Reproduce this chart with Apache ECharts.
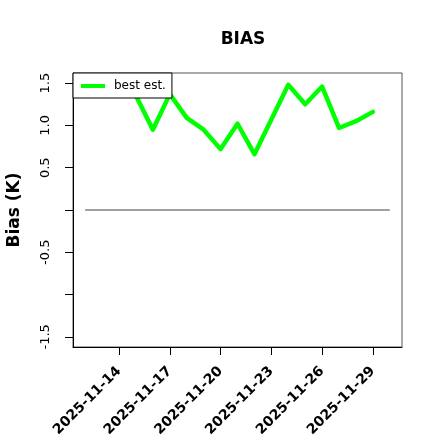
<!DOCTYPE html>
<html>
<head>
<meta charset="utf-8">
<script src="https://cdn.jsdelivr.net/npm/echarts@6/dist/echarts.min.js"></script>
<style>html,body{margin:0;padding:0;background:#fff}#c{width:440px;height:440px}</style>
</head>
<body>
<div id="c"></div>
<script>
// ---- data ----
const dates = ['2025-11-15','2025-11-16','2025-11-17','2025-11-18','2025-11-19','2025-11-20','2025-11-21','2025-11-22','2025-11-23','2025-11-24','2025-11-25','2025-11-26','2025-11-27','2025-11-28','2025-11-29'];
const bestEst = [1.35,0.95,1.37,1.09,0.95,0.72,1.02,0.66,1.07,1.48,1.25,1.46,0.97,1.05,1.16];
const refDates = ['2025-11-12','2025-11-30'];
const refValues = [0, 0];
const xTickDates = ['2025-11-14','2025-11-17','2025-11-20','2025-11-23','2025-11-26','2025-11-29'];
const yTicks = [-1.5,-1.0,-0.5,0,0.5,1.0,1.5];
const yTickLabels = [-1.5,-0.5,0.5,1.0,1.5];
const xRange = ['2025-11-12','2025-11-30'];
const yRange = [-1.5, 1.5];

const base = Date.parse('2025-11-01T00:00:00Z');
const toDay = s => (Date.parse(s + 'T00:00:00Z') - base) / 86400000 + 1;
const pad = n => (n < 10 ? '0' : '') + n;
const fromDay = v => '2025-11-' + pad(Math.round(v));

const xs = xRange.map(toDay), xPad = (xs[1] - xs[0]) * 0.04;
const yPad = (yRange[1] - yRange[0]) * 0.04;

const chart = echarts.init(document.getElementById('c'), null, {renderer: 'canvas'});
chart.setOption({
  animation: false,
  backgroundColor: '#fff',
  title: {
    text: 'BIAS', left: 238, top: 26, textAlign: 'center',
    textStyle: {fontFamily: 'DejaVu Sans', fontWeight: 'bold', fontSize: 17, color: '#000'}
  },
  grid: {left: 73, top: 73, right: 38, bottom: 93, show: true, borderColor: '#555', borderWidth: 1, outerBoundsMode: 'none', containLabel: false},
  legend: {
    left: 73, top: 73, data: ['best est.'], icon: 'rect', itemWidth: 24, itemHeight: 4,
    backgroundColor: '#fff', borderColor: '#000', borderWidth: 1, borderRadius: 0,
    padding: [7, 6, 6, 8],
    textStyle: {fontFamily: 'DejaVu Sans', fontSize: 12, color: '#000', padding: [0, 0, 0, 4]}
  },
  xAxis: {
    type: 'value', min: xs[0] - xPad, max: xs[1] + xPad,
    splitLine: {show: false},
    axisLine: {show: true, onZero: false, lineStyle: {color: '#000', width: 1}},
    axisTick: {show: true, length: 8, customValues: xTickDates.map(toDay), lineStyle: {color: '#000'}},
    axisLabel: {
      customValues: xTickDates.map(toDay), rotate: 45, margin: 22, hideOverlap: false,
      fontFamily: 'DejaVu Sans', fontWeight: 'bold', fontSize: 14, color: '#000',
      formatter: v => fromDay(v)
    }
  },
  yAxis: {
    type: 'value', min: yRange[0] - yPad, max: yRange[1] + yPad,
    name: 'Bias (K)', nameLocation: 'middle', nameGap: 50,
    nameTextStyle: {fontFamily: 'DejaVu Sans', fontWeight: 'bold', fontSize: 17, color: '#000'},
    splitLine: {show: false},
    axisLine: {show: true, onZero: false, lineStyle: {color: '#000', width: 1}},
    axisTick: {show: true, length: 8, customValues: yTicks, lineStyle: {color: '#000'}},
    axisLabel: {
      customValues: yTickLabels, rotate: 90, margin: 21,
      fontFamily: 'DejaVu Sans', fontSize: 13, color: '#000',
      formatter: v => Number(v).toFixed(1)
    }
  },
  series: [
    {
      name: 'zero', type: 'line', symbol: 'none', silent: true, z: 1,
      data: refDates.map((d, i) => [toDay(d), refValues[i]]),
      lineStyle: {color: '#808080', width: 1.5}
    },
    {
      name: 'best est.', type: 'line', symbol: 'none', z: 2,
      data: dates.map((d, i) => [toDay(d), bestEst[i]]),
      itemStyle: {color: '#00ff00'},
      lineStyle: {color: '#00ff00', width: 4.5, join: 'round', cap: 'round'}
    }
  ]
});
</script>
</body>
</html>
